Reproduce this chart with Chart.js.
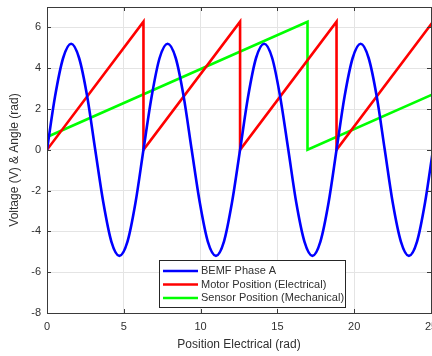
<!DOCTYPE html>
<html>
<head>
<meta charset="utf-8">
<script src="https://cdn.jsdelivr.net/npm/chart.js@4"></script>
<style>
  html, body { margin: 0; padding: 0; background: #fff; overflow: hidden; }
  #wrap { width: 450px; height: 356px; }
</style>
</head>
<body>
<div id="wrap"><canvas id="phase"></canvas></div>
<script>
// BEMF phase A (rad, V)
const bemfX = [0, 0.52, 1.05, 1.57, 2.09, 2.62, 3.14, 3.67, 4.19, 4.71, 5.24, 5.76,
               6.28, 6.81, 7.33, 7.85, 8.38, 8.9, 9.42, 9.95, 10.47, 11.0, 11.52, 12.04,
               12.57, 13.09, 13.61, 14.14, 14.66, 15.18, 15.71, 16.23, 16.76, 17.28, 17.8, 18.33,
               18.85, 19.37, 19.9, 20.42, 20.94, 21.47, 21.99, 22.51, 23.04, 23.56, 24.09, 24.61, 25.13];
const bemfY = [0, 2.6, 4.5, 5.2, 4.5, 2.6, 0, -2.6, -4.5, -5.2, -4.5, -2.6,
               0, 2.6, 4.5, 5.2, 4.5, 2.6, 0, -2.6, -4.5, -5.2, -4.5, -2.6,
               0, 2.6, 4.5, 5.2, 4.5, 2.6, 0, -2.6, -4.5, -5.2, -4.5, -2.6,
               0, 2.6, 4.5, 5.2, 4.5, 2.6, 0, -2.6, -4.5, -5.2, -4.5, -2.6, 0];
// motor electrical position (sawtooth)
const motorX = [0, 6.28, 6.28, 12.57, 12.57, 18.85, 18.85, 25.13];
const motorY = [0, 6.28, 0, 6.28, 0, 6.28, 0, 6.28];
// sensor mechanical position
const sensorX = [0, 16.96, 16.96, 25.13];
const sensorY = [0.63, 6.28, 0, 2.72];

const seriesNames = ['BEMF Phase A', 'Motor Position (Electrical)', 'Sensor Position (Mechanical)'];
const yTicks = [-8, -6, -4, -2, 0, 2, 4, 6];

const pts = (xs, ys) => xs.map((x, i) => ({ x: x, y: ys[i] }));
const FONT = '"Liberation Sans", Arial, sans-serif';
const INK = '#303030';

// MATLAB-ish box: frame, inward ticks, legend inside the axes
const boxPlugin = {
    id: 'box',
    afterDraw(chart) {
        const { ctx, chartArea: a, scales } = chart;
        ctx.save();
        ctx.strokeStyle = '#3a3a3a';
        ctx.lineWidth = 1;
        ctx.beginPath();
        scales.x.ticks.forEach(t => {
            const px = Math.round(scales.x.getPixelForValue(t.value)) + 0.5;
            ctx.moveTo(px, a.bottom); ctx.lineTo(px, a.bottom - 4);
            ctx.moveTo(px, a.top); ctx.lineTo(px, a.top + 4);
        });
        scales.y.ticks.forEach(t => {
            const py = Math.round(scales.y.getPixelForValue(t.value)) + 0.5;
            ctx.moveTo(a.left, py); ctx.lineTo(a.left + 4, py);
            ctx.moveTo(a.right, py); ctx.lineTo(a.right - 4, py);
        });
        ctx.stroke();
        ctx.strokeRect(Math.round(a.left) + 0.5, Math.round(a.top) + 0.5,
                       Math.round(a.right - a.left), Math.round(a.bottom - a.top));

        // legend
        const lx = 159, ly = 260, lw = 186, lh = 47;
        ctx.fillStyle = '#fff';
        ctx.fillRect(lx, ly, lw, lh);
        ctx.strokeStyle = '#262626';
        ctx.strokeRect(lx + 0.5, ly + 0.5, lw, lh);
        ctx.font = '11px ' + FONT;
        ctx.textBaseline = 'middle';
        chart.data.datasets.forEach((ds, i) => {
            const cy = ly + 11 + i * 13.5;
            ctx.strokeStyle = ds.borderColor;
            ctx.lineWidth = 2.5;
            ctx.beginPath();
            ctx.moveTo(lx + 4, cy); ctx.lineTo(lx + 39, cy);
            ctx.stroke();
            ctx.fillStyle = INK;
            ctx.fillText(ds.label, lx + 42, cy);
        });
        ctx.restore();
    }
};

new Chart(document.getElementById('phase').getContext('2d'), {
    type: 'line',
    data: {
        datasets: [
            {
                label: seriesNames[0],
                data: pts(bemfX, bemfY),
                borderColor: '#0000ff',
                cubicInterpolationMode: 'monotone'
            },
            {
                label: seriesNames[1],
                data: pts(motorX, motorY),
                borderColor: '#ff0000'
            },
            {
                label: seriesNames[2],
                data: pts(sensorX, sensorY),
                borderColor: '#00ff00'
            }
        ]
    },
    options: {
        responsive: true,
        maintainAspectRatio: false,
        animation: false,
        elements: {
            point: { radius: 0 },
            line: { borderWidth: 2.6, fill: false }
        },
        layout: { padding: { top: 7, right: 19, left: 0, bottom: 0 } },
        plugins: {
            legend: { display: false },
            tooltip: { enabled: false }
        },
        scales: {
            x: {
                type: 'linear',
                min: 0,
                max: 25,
                border: { display: false },
                grid: { color: '#e4e4e4', drawTicks: false },
                ticks: { stepSize: 5, padding: 7, color: INK, font: { family: FONT, size: 11 } },
                title: {
                    display: true,
                    text: 'Position Electrical (rad)',
                    color: INK,
                    font: { family: FONT, size: 12 },
                    padding: { top: 0, bottom: 4 }
                },
                afterFit(scale) { scale.height = 43; }
            },
            y: {
                type: 'linear',
                min: -8,
                max: 7,
                border: { display: false },
                grid: { color: '#e4e4e4', drawTicks: false },
                ticks: { stepSize: 2, padding: 6, color: INK, font: { family: FONT, size: 11 } },
                afterBuildTicks(scale) {
                    scale.ticks = yTicks.map(v => ({ value: v }));
                },
                title: {
                    display: true,
                    text: 'Voltage (V) & Angle (rad)',
                    color: INK,
                    font: { family: FONT, size: 12 },
                    padding: { top: 7, bottom: 0 }
                },
                afterFit(scale) {
                    scale.width = 47;
                    scale.paddingTop = 0;
                    scale.paddingBottom = 0;
                }
            }
        }
    },
    plugins: [boxPlugin]
});
</script>
</body>
</html>
